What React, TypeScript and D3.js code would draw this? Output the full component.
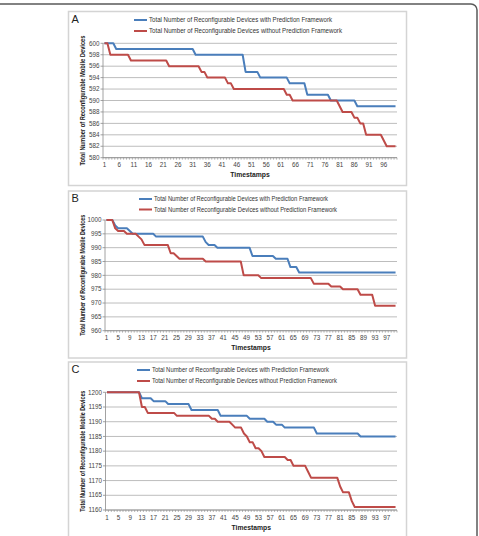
import React from 'react';
import * as d3 from 'd3';

const categories: number[] = d3.range(1, 101);

const legendLabels = [
  'Total Number  of  Reconfigurable Devices with  Prediction Framework',
  'Total Number  of  Reconfigurable Devices without  Prediction Framework',
];
const yTitle = 'Total Number of Reconfigurable  Mobile Devices';
const xTitle = 'Timestamps';

const yTicksA = [580, 582, 584, 586, 588, 590, 592, 594, 596, 598, 600];
const yTicksB = [960, 965, 970, 975, 980, 985, 990, 995, 1000];
const yTicksC = [1160, 1165, 1170, 1175, 1180, 1185, 1190, 1195, 1200];

const withA = [
  600, 600, 600, 600, 599, 599, 599, 599, 599, 599,
  599, 599, 599, 599, 599, 599, 599, 599, 599, 599,
  599, 599, 599, 599, 599, 599, 599, 599, 599, 599,
  599, 598, 598, 598, 598, 598, 598, 598, 598, 598,
  598, 598, 598, 598, 598, 598, 598, 598, 595, 595,
  595, 595, 595, 594, 594, 594, 594, 594, 594, 594,
  594, 594, 594, 593, 593, 593, 593, 593, 593, 591,
  591, 591, 591, 591, 591, 591, 591, 590, 590, 590,
  590, 590, 590, 590, 590, 590, 589, 589, 589, 589,
  589, 589, 589, 589, 589, 589, 589, 589, 589, 589,
];
const withoutA = [
  600, 600, 598, 598, 598, 598, 598, 598, 598, 597,
  597, 597, 597, 597, 597, 597, 597, 597, 597, 597,
  597, 597, 596, 596, 596, 596, 596, 596, 596, 596,
  596, 596, 596, 595, 595, 594, 594, 594, 594, 594,
  594, 594, 593, 593, 592, 592, 592, 592, 592, 592,
  592, 592, 592, 592, 592, 592, 592, 592, 592, 592,
  592, 592, 591, 591, 590, 590, 590, 590, 590, 590,
  590, 590, 590, 590, 590, 590, 590, 590, 590, 590,
  589, 588, 588, 588, 588, 587, 587, 586, 586, 584,
  584, 584, 584, 584, 584, 583, 582, 582, 582, 582,
];
const withB = [
  1000, 1000, 1000, 998, 997, 997, 997, 997, 996, 995,
  995, 995, 995, 995, 995, 995, 995, 994, 994, 994,
  994, 994, 994, 994, 994, 994, 994, 994, 994, 994,
  994, 994, 994, 994, 992, 991, 991, 991, 990, 990,
  990, 990, 990, 990, 990, 990, 990, 990, 990, 990,
  987, 987, 987, 987, 987, 987, 987, 987, 986, 986,
  986, 986, 986, 983, 983, 983, 981, 981, 981, 981,
  981, 981, 981, 981, 981, 981, 981, 981, 981, 981,
  981, 981, 981, 981, 981, 981, 981, 981, 981, 981,
  981, 981, 981, 981, 981, 981, 981, 981, 981, 981,
];
const withoutB = [
  1000, 1000, 1000, 997, 996, 996, 996, 995, 995, 995,
  995, 994, 993, 991, 991, 991, 991, 991, 991, 991,
  991, 991, 988, 988, 987, 986, 986, 986, 986, 986,
  986, 986, 986, 986, 985, 985, 985, 985, 985, 985,
  985, 985, 985, 985, 985, 985, 985, 980, 980, 980,
  980, 980, 980, 979, 979, 979, 979, 979, 979, 979,
  979, 979, 979, 979, 979, 979, 979, 979, 979, 979,
  979, 977, 977, 977, 977, 977, 977, 976, 976, 976,
  976, 975, 975, 975, 975, 975, 975, 973, 973, 973,
  973, 973, 969, 969, 969, 969, 969, 969, 969, 969,
];
const withC = [
  1200, 1200, 1200, 1200, 1200, 1200, 1200, 1200, 1200, 1200,
  1200, 1200, 1198, 1198, 1198, 1198, 1197, 1197, 1197, 1197,
  1197, 1196, 1196, 1196, 1196, 1196, 1196, 1196, 1196, 1194,
  1194, 1194, 1194, 1194, 1194, 1194, 1194, 1194, 1194, 1192,
  1192, 1192, 1192, 1192, 1192, 1192, 1192, 1192, 1192, 1191,
  1191, 1191, 1191, 1191, 1191, 1190, 1190, 1190, 1189, 1189,
  1189, 1188, 1188, 1188, 1188, 1188, 1188, 1188, 1188, 1188,
  1188, 1188, 1186, 1186, 1186, 1186, 1186, 1186, 1186, 1186,
  1186, 1186, 1186, 1186, 1186, 1186, 1186, 1185, 1185, 1185,
  1185, 1185, 1185, 1185, 1185, 1185, 1185, 1185, 1185, 1185,
];
const withoutC = [
  1200, 1200, 1200, 1200, 1200, 1200, 1200, 1200, 1200, 1200,
  1200, 1200, 1195, 1195, 1193, 1193, 1193, 1193, 1193, 1193,
  1193, 1193, 1193, 1193, 1192, 1192, 1192, 1192, 1192, 1192,
  1192, 1192, 1192, 1192, 1192, 1192, 1191, 1191, 1190, 1190,
  1190, 1190, 1190, 1189, 1188, 1188, 1188, 1186, 1185, 1183,
  1183, 1181, 1181, 1180, 1178, 1178, 1178, 1178, 1178, 1178,
  1178, 1178, 1177, 1177, 1175, 1175, 1175, 1175, 1175, 1173,
  1171, 1171, 1171, 1171, 1171, 1171, 1171, 1171, 1171, 1171,
  1168, 1166, 1166, 1166, 1163, 1161, 1161, 1161, 1161, 1161,
  1161, 1161, 1161, 1161, 1161, 1161, 1161, 1161, 1161, 1161,
];

const BLUE = '#4a7ebb';
const RED = '#be4b48';
const FONT = '"Liberation Sans", Arial, sans-serif';

type PanelProps = {
  letter: string;
  withS: number[];
  withoutS: number[];
  yTicks: number[];
  labelStep: number;
  frame: { x: number; y: number; w: number; h: number };
  plot: { l: number; t: number; r: number; b: number };
  legendX: number;
  legendY: [number, number];
  legendLen: [number, number];
  yTitleLen: number;
};

function Panel(p: PanelProps) {
  const x = d3.scaleBand<number>().domain(categories).range([p.plot.l, p.plot.r]).padding(0);
  const bw = x.bandwidth();
  const y = d3
    .scaleLinear()
    .domain([p.yTicks[0], p.yTicks[p.yTicks.length - 1]])
    .range([p.plot.b, p.plot.t]);
  const line = d3
    .line<number>()
    .x((_, i) => (x(categories[i]) as number) + bw / 2)
    .y((v) => y(v));
  const labels = categories.filter((c) => (c - 1) % p.labelStep === 0);
  const boundaries = d3.range(0, categories.length + 1).map((i) => p.plot.l + i * bw);
  const midY = (p.plot.t + p.plot.b) / 2;
  return (
    <g>
      <rect x={p.frame.x} y={p.frame.y} width={p.frame.w} height={p.frame.h} fill="#fff" stroke="#d4d4d4" strokeWidth={1.5} />
      <text x={p.frame.x + 3} y={p.frame.y + 11} fontFamily={FONT} fontSize={11} fill="#222">
        {p.letter}
      </text>
      {[0, 1].map((k) => (
        <g key={k}>
          <line x1={p.legendX} x2={p.legendX + 13} y1={p.legendY[k]} y2={p.legendY[k]} stroke={k === 0 ? BLUE : RED} strokeWidth={2} />
          <text
            x={p.legendX + 15}
            y={p.legendY[k] + 2.3}
            fontFamily={FONT}
            fontSize={6.8}
            fill="#333"
            textLength={p.legendLen[k]}
            lengthAdjust="spacingAndGlyphs"
          >
            {legendLabels[k]}
          </text>
        </g>
      ))}
      {p.yTicks.map((t) => (
        <g key={t}>
          <line x1={p.plot.l} x2={p.plot.r} y1={y(t)} y2={y(t)} stroke="#bdbdbd" strokeWidth={1} />
          <line x1={p.plot.l - 2.5} x2={p.plot.l} y1={y(t)} y2={y(t)} stroke="#8a8a8a" strokeWidth={0.8} />
          <text x={p.plot.l - 3.5} y={y(t) + 2.2} textAnchor="end" fontFamily={FONT} fontSize={6.3} fill="#444">
            {t}
          </text>
        </g>
      ))}
      <line x1={p.plot.l} x2={p.plot.l} y1={p.plot.t} y2={p.plot.b} stroke="#8a8a8a" strokeWidth={0.8} />
      <line x1={p.plot.l} x2={p.plot.r} y1={p.plot.b} y2={p.plot.b} stroke="#8a8a8a" strokeWidth={0.8} />
      {boundaries.map((bx, i) => (
        <line key={i} x1={bx} x2={bx} y1={p.plot.b} y2={p.plot.b + 2} stroke="#8a8a8a" strokeWidth={0.6} />
      ))}
      {labels.map((c) => (
        <text key={c} x={(x(c) as number) + bw / 2} y={p.plot.b + 9.5} textAnchor="middle" fontFamily={FONT} fontSize={6.3} fill="#444">
          {c}
        </text>
      ))}
      <text
        x={(p.plot.l + p.plot.r) / 2}
        y={p.plot.b + 19.5}
        textAnchor="middle"
        fontFamily={FONT}
        fontSize={6.8}
        fontWeight="bold"
        fill="#222"
      >
        {xTitle}
      </text>
      <text
        transform={`translate(${p.frame.x + 16.5},${midY}) rotate(-90)`}
        textAnchor="middle"
        fontFamily={FONT}
        fontSize={6.8}
        fontWeight="bold"
        fill="#222"
        textLength={p.yTitleLen}
        lengthAdjust="spacingAndGlyphs"
      >
        {yTitle}
      </text>
      <path d={line(p.withS) || ''} fill="none" stroke={BLUE} strokeWidth={2} strokeLinejoin="round" />
      <path d={line(p.withoutS) || ''} fill="none" stroke={RED} strokeWidth={2} strokeLinejoin="round" />
    </g>
  );
}

export default function App() {
  return (
    <svg
      width={479}
      height={536}
      style={{ position: 'absolute', left: 0, top: 0, background: '#fff' }}
      xmlns="http://www.w3.org/2000/svg"
    >
      <rect x={-10} y={4} width={487} height={560} rx={6} fill="#fff" stroke="#5a5a5a" strokeWidth={1.5} />
      <Panel
        letter="A"
        withS={withA}
        withoutS={withoutA}
        yTicks={yTicksA}
        labelStep={5}
        frame={{ x: 68.5, y: 11.5, w: 338, h: 174 }}
        plot={{ l: 103, t: 43.3, r: 397, b: 157.7 }}
        legendX={134}
        legendY={[20, 31]}
        legendLen={[183, 193]}
        yTitleLen={130}
      />
      <Panel
        letter="B"
        withS={withB}
        withoutS={withoutB}
        yTicks={yTicksB}
        labelStep={4}
        frame={{ x: 68.5, y: 191, w: 338, h: 167 }}
        plot={{ l: 105, t: 220, r: 397, b: 330.7 }}
        legendX={139}
        legendY={[199, 209.5]}
        legendLen={[174, 183]}
        yTitleLen={121}
      />
      <Panel
        letter="C"
        withS={withC}
        withoutS={withoutC}
        yTicks={yTicksC}
        labelStep={4}
        frame={{ x: 68.5, y: 362, w: 338, h: 190 }}
        plot={{ l: 105.5, t: 392.3, r: 397, b: 510 }}
        legendX={137}
        legendY={[370, 381]}
        legendLen={[177, 185]}
        yTitleLen={121}
      />
    </svg>
  );
}
